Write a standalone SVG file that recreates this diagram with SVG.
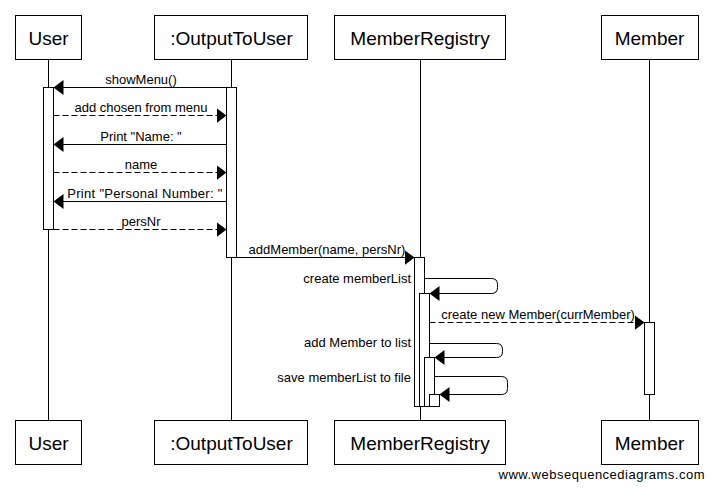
<svg xmlns="http://www.w3.org/2000/svg" width="713" height="488" viewBox="0 0 713 488">
<style>
.box{fill:#fff;stroke:#000;stroke-width:1}
.life{stroke:#000;stroke-width:1;fill:none}
.act{fill:#fff;stroke:#000;stroke-width:1}
.msg{stroke:#000;stroke-width:1;fill:none;marker-end:url(#ah)}
.dash{stroke-dasharray:6,3}
.nt{font-family:"Liberation Sans",Arial,sans-serif;font-size:19px;text-anchor:middle;fill:#000}
.mt{font-family:"Liberation Sans",Arial,sans-serif;font-size:13px;fill:#000}
.c{text-anchor:middle}
.r{text-anchor:end}
</style>
<defs>
<marker id="ah" markerUnits="userSpaceOnUse" markerWidth="11" markerHeight="16" refX="10" refY="7.5" orient="auto" viewBox="0 0 11 16">
<path d="M0,0 L10,7.5 L0,15 z" fill="#000"/>
</marker>
</defs>
<rect width="713" height="488" fill="#fff"/>
<g id="lifelines">
<line class="life" x1="48.5" y1="59" x2="48.5" y2="420"/>
<line class="life" x1="231.5" y1="59" x2="231.5" y2="420"/>
<line class="life" x1="420.5" y1="59" x2="420.5" y2="420"/>
<line class="life" x1="649.5" y1="59" x2="649.5" y2="420"/>
</g>
<g id="User">
<rect class="box" x="15.5" y="15.5" width="66" height="44"/>
<text class="nt" x="48.5" y="45">User</text>
<rect class="box" x="15.5" y="420.5" width="66" height="44"/>
<text class="nt" x="48.5" y="450">User</text>
<rect class="act" x="43.5" y="87.5" width="10" height="142"/>
</g>
<g id="OutputToUser">
<rect class="box" x="154.5" y="15.5" width="153" height="44"/>
<text class="nt" x="231.5" y="45">:OutputToUser</text>
<rect class="box" x="154.5" y="420.5" width="153" height="44"/>
<text class="nt" x="231.5" y="450">:OutputToUser</text>
<rect class="act" x="226.5" y="87.5" width="10" height="170"/>
</g>
<g id="MemberRegistry">
<rect class="box" x="334.5" y="15.5" width="171" height="44"/>
<text class="nt" x="420" y="45">MemberRegistry</text>
<rect class="box" x="334.5" y="420.5" width="171" height="44"/>
<text class="nt" x="420" y="450">MemberRegistry</text>
<rect class="act" x="414.5" y="257.5" width="10" height="149"/>
<rect class="act" x="419.5" y="293.5" width="10" height="113"/>
<rect class="act" x="424.5" y="357.5" width="10" height="49"/>
<rect class="act" x="429.5" y="394.5" width="10" height="12"/>
</g>
<g id="Member">
<rect class="box" x="601.5" y="15.5" width="97" height="44"/>
<text class="nt" x="649.5" y="45">Member</text>
<rect class="box" x="601.5" y="420.5" width="97" height="44"/>
<text class="nt" x="649.5" y="450">Member</text>
<rect class="act" x="644.5" y="322.5" width="10" height="72"/>
</g>
<g id="connectors">
<path class="msg" d="M226.5,87.5 H53.5"/>
<text class="mt c" x="141" y="84">showMenu()</text>
<path class="msg dash" d="M53.5,115.5 H226.5"/>
<text class="mt c" x="141" y="112">add chosen from menu</text>
<path class="msg" d="M226.5,144.5 H53.5"/>
<text class="mt c" x="141" y="141">Print "Name: "</text>
<path class="msg dash" d="M53.5,172.5 H226.5"/>
<text class="mt c" x="141" y="169">name</text>
<path class="msg" d="M226.5,201.5 H53.5"/>
<text class="mt c" x="145" y="198" letter-spacing="0.3">Print "Personal Number: "</text>
<path class="msg dash" d="M53.5,229.5 H226.5"/>
<text class="mt c" x="141" y="226">persNr</text>
<path class="msg" d="M236.5,257.5 H414.5"/>
<text class="mt c" x="327" y="254">addMember(name, persNr)</text>
<path class="msg" d="M424.5,278.5 H491.5 Q497.5,278.5 497.5,284.5 V287.5 Q497.5,293.5 491.5,293.5 H429.5"/>
<text class="mt r" x="411" y="283">create memberList</text>
<path class="msg dash" d="M429.5,322.5 H644.5"/>
<text class="mt c" x="538" y="319">create new Member(currMember)</text>
<path class="msg" d="M429.5,343.5 H496.5 Q502.5,343.5 502.5,349.5 V351.5 Q502.5,357.5 496.5,357.5 H434.5"/>
<text class="mt r" x="411" y="347">add Member to list</text>
<path class="msg" d="M434.5,376.5 H501.5 Q507.5,376.5 507.5,382.5 V388.5 Q507.5,394.5 501.5,394.5 H439.5"/>
<text class="mt r" x="411" y="382">save memberList to file</text>
</g>
<text class="mt r" x="705" y="479" letter-spacing="0.5">www.websequencediagrams.com</text>
</svg>
